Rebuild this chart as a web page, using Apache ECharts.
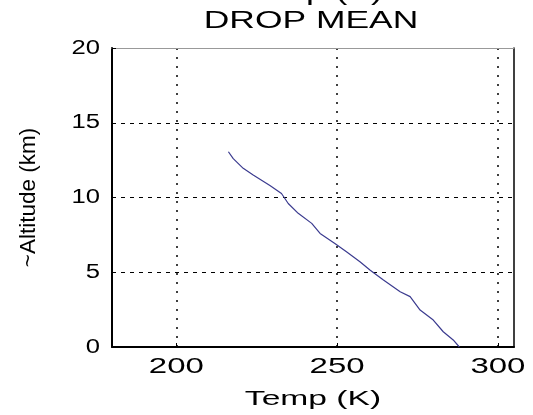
<!DOCTYPE html>
<html>
<head>
<meta charset="utf-8">
<script src="https://cdn.jsdelivr.net/npm/echarts@6/dist/echarts.min.js"></script>
<style>
html,body{margin:0;padding:0;background:#fff;overflow:hidden;}
#chart{width:533px;height:415px;}
</style>
</head>
<body>
<div id="chart"></div>
<script>
// Data
const altitudeKm = [0, 0.47, 1.02, 1.8, 2.47, 3.37, 3.7, 4.48, 5.15, 5.7, 6.37, 6.93, 7.6, 8.27, 8.94, 9.6, 10.27, 10.8, 11.5, 11.95, 12.6, 13.06];
const tempK = [288.0, 286.1, 283.0, 279.9, 275.8, 272.7, 269.6, 264.4, 260.2, 257.1, 252.9, 249.3, 244.7, 242.1, 237.9, 234.8, 232.7, 229.1, 223.9, 220.8, 217.7, 216.2];
const xTicks = [200, 250, 300];
const yTicks = [0, 5, 10, 15, 20];
const titleLines = ['Temp (K)', 'DROP MEAN'];
const xName = 'Temp (K)';
const yName = '~Altitude (km)';

// The reference's horizontal text is drawn wide (horizontally stretched glyphs).
// Stretch factor per font size used below (style only).
const STRETCH = {'23px': 1.54, '22px': 1.5, '21px': 1.6, '20.5px': 1.25};
(function () {
  const proto = CanvasRenderingContext2D.prototype;
  const orig = proto.fillText;
  proto.fillText = function (text, x, y, maxW) {
    const m = /(\d+(?:\.\d+)?px)/.exec(this.font || '');
    const s = m && STRETCH[m[1]];
    if (!s) {
      return maxW === undefined ? orig.call(this, text, x, y) : orig.call(this, text, x, y, maxW);
    }
    this.save();
    this.translate(x, y);
    this.scale(s, 1);
    orig.call(this, text, 0, 0);
    this.restore();
  };
})();

const FONT = "'Liberation Sans', Arial, Helvetica, sans-serif";
const chart = echarts.init(document.getElementById('chart'), null, {renderer: 'canvas'});
const seriesData = tempK.map((t, i) => [t, altitudeKm[i]]);

chart.setOption({
  animation: false,
  backgroundColor: '#fff',
  title: {
    text: titleLines.join('\n'),
    left: 311,
    top: -20.5,
    padding: 0,
    textAlign: 'center',
    textStyle: {fontFamily: FONT, fontSize: 23, fontWeight: 'normal', color: '#000', lineHeight: 28}
  },
  grid: {left: 112, right: 19, top: 48, bottom: 68, containLabel: false},
  xAxis: [{
    type: 'value', min: 180, max: 305,
    name: xName, nameLocation: 'middle', nameGap: 42,
    nameTextStyle: {fontFamily: FONT, fontSize: 21, color: '#000'},
    axisLine: {show: true, onZero: false, lineStyle: {color: '#000', width: 2}},
    axisTick: {show: true, inside: true, length: 4, customValues: xTicks, lineStyle: {color: '#000'}},
    axisLabel: {customValues: xTicks, fontFamily: FONT, fontSize: 22, color: '#000', margin: 9},
    splitLine: {show: true, lineStyle: {color: '#000', width: 1.5, type: [2, 7]}}
  }, {
    type: 'value', min: 180, max: 305, position: 'top',
    axisLine: {show: true, onZero: false, lineStyle: {color: '#999', width: 1}},
    axisTick: {show: false}, axisLabel: {show: false}, splitLine: {show: false}
  }],
  yAxis: [{
    type: 'value', min: 0, max: 20, interval: 5,
    name: yName, nameLocation: 'middle', nameGap: 72, nameRotate: 90,
    nameTextStyle: {fontFamily: FONT, fontSize: 22.5, color: '#000'},
    axisLine: {show: true, onZero: false, lineStyle: {color: '#000', width: 2}},
    axisTick: {show: true, inside: true, length: 4, lineStyle: {color: '#000'}},
    axisLabel: {fontFamily: FONT, fontSize: 20.5, color: '#000', margin: 12,
      formatter: v => yTicks.indexOf(v) >= 0 ? String(v) : ''},
    splitLine: {show: true, lineStyle: {color: '#000', width: 1.2, type: [4, 5]}}
  }, {
    type: 'value', min: 0, max: 20, interval: 5, position: 'right',
    axisLine: {show: true, onZero: false, lineStyle: {color: '#000', width: 1.5}},
    axisTick: {show: false}, axisLabel: {show: false}, splitLine: {show: false}
  }],
  series: [{
    type: 'line',
    xAxisIndex: 0, yAxisIndex: 0,
    data: seriesData,
    showSymbol: false,
    symbol: 'none',
    lineStyle: {color: '#3b3b8f', width: 1.2},
    z: 5
  }]
});
</script>
</body>
</html>
